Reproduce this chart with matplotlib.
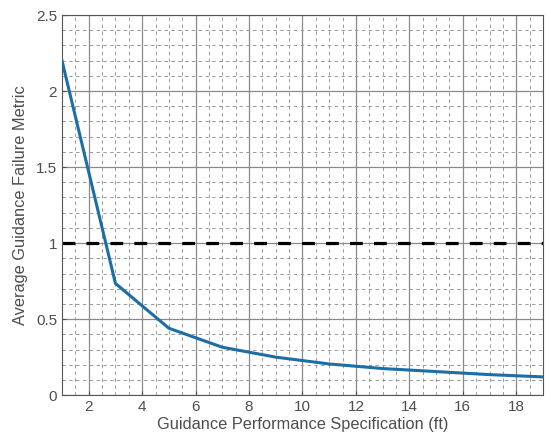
import matplotlib.pyplot as plt
from matplotlib.ticker import MultipleLocator

# Data
spec_ft = [1, 3, 5, 7, 9, 11, 13, 15, 17, 19]
failure_metric = [2.2, 0.735, 0.44, 0.315, 0.25, 0.205, 0.175, 0.155, 0.135, 0.12]
threshold = 1.0

plt.rcParams['font.family'] = ['Liberation Sans', 'DejaVu Sans']

fig = plt.figure(figsize=(5.51, 4.42), dpi=100)
ax = fig.add_axes([0.1125, 0.106, 0.873, 0.86])

ax.plot(spec_ft, failure_metric, color='#1b6ea6', linewidth=2.2, zorder=3)
ax.axhline(threshold, color='black', linestyle=(0, (4, 3.5)), linewidth=2.3, zorder=2)

ax.set_xlim(1, 19)
ax.set_ylim(0, 2.5)
ax.xaxis.set_major_locator(MultipleLocator(2))
ax.xaxis.set_minor_locator(MultipleLocator(0.5))
ax.yaxis.set_major_locator(MultipleLocator(0.5))
ax.yaxis.set_minor_locator(MultipleLocator(0.1))
ax.set_yticks([0, 0.5, 1, 1.5, 2, 2.5])
ax.set_yticklabels(['0', '0.5', '1', '1.5', '2', '2.5'])

# Grid
ax.grid(True, which='major', color='#8a8a8a', linewidth=0.9)
ax.grid(True, which='minor', color='#999999', linewidth=0.7, linestyle=(0, (3.5, 3.5)))
ax.set_axisbelow(True)

ax.tick_params(which='both', direction='in', colors='#4d4d4d', labelsize=11)
ax.tick_params(which='minor', length=0)
ax.tick_params(which='major', length=3)
for s in ax.spines.values():
    s.set_color('#555555')
    s.set_linewidth(0.8)

ax.set_xlabel('Guidance Performance Specification (ft)', fontsize=11.8, color='#4d4d4d', labelpad=2)
ax.set_ylabel('Average Guidance Failure Metric', fontsize=11.8, color='#4d4d4d', labelpad=6)

fig.savefig('out.png', dpi=100, facecolor='white')
